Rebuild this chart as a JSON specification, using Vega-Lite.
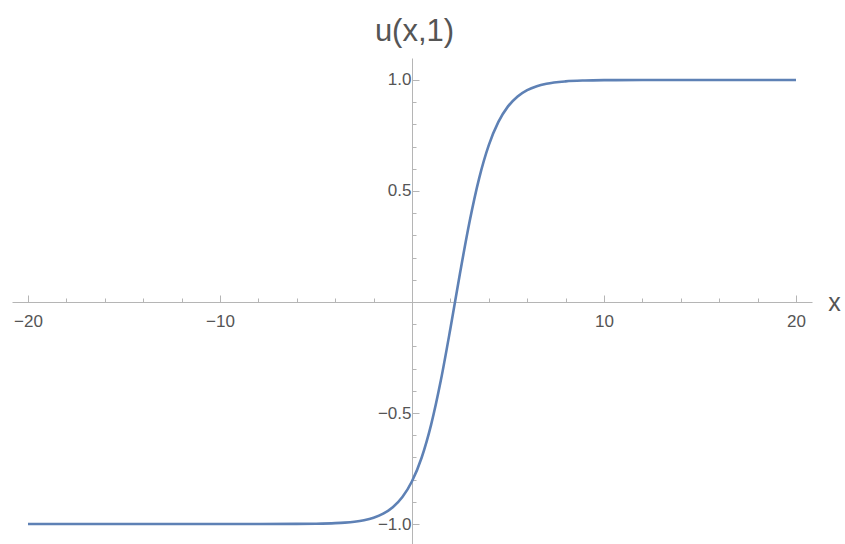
{
  "$schema": "https://vega.github.io/schema/vega-lite/v6.json",
  "width": 800,
  "height": 486,
  "autosize": {"type": "none"},
  "padding": {"left": 12, "top": 58, "right": 33, "bottom": 0},
  "background": "white",
  "config": {"view": {"stroke": null}, "axis": {"grid": false}},
  "data": {"values": [
    {"x": -20, "u": -1.0},
    {"x": -15, "u": -1.0},
    {"x": -10, "u": -0.99999},
    {"x": -8, "u": -0.99993},
    {"x": -6, "u": -0.99947},
    {"x": -5, "u": -0.9986},
    {"x": -4, "u": -0.9961},
    {"x": -3.5, "u": -0.9936},
    {"x": -3, "u": -0.9895},
    {"x": -2.5, "u": -0.9827},
    {"x": -2, "u": -0.9716},
    {"x": -1.5, "u": -0.9536},
    {"x": -1, "u": -0.9246},
    {"x": -0.5, "u": -0.8787},
    {"x": 0, "u": -0.8076},
    {"x": 0.5, "u": -0.7014},
    {"x": 1, "u": -0.5511},
    {"x": 1.5, "u": -0.354},
    {"x": 2, "u": -0.1194},
    {"x": 2.5, "u": 0.1293},
    {"x": 3, "u": 0.3627},
    {"x": 3.5, "u": 0.5581},
    {"x": 4, "u": 0.7064},
    {"x": 4.5, "u": 0.811},
    {"x": 5, "u": 0.881},
    {"x": 5.5, "u": 0.9261},
    {"x": 6, "u": 0.9545},
    {"x": 6.5, "u": 0.9722},
    {"x": 7, "u": 0.983},
    {"x": 8, "u": 0.9937},
    {"x": 9, "u": 0.9977},
    {"x": 10, "u": 0.99915},
    {"x": 12, "u": 0.99988},
    {"x": 15, "u": 1.0},
    {"x": 20, "u": 1.0}
  ]},
  "mark": {"type": "line", "color": "#5E81B5", "strokeWidth": 2.6, "interpolate": "monotone", "clip": true},
  "encoding": {
    "x": {
      "field": "x", "type": "quantitative",
      "scale": {"domain": [-20.833, 20.833], "nice": false, "zero": false},
      "axis": {
        "orient": "bottom", "offset": -242,
        "values": [-20, -18, -16, -14, -12, -10, -8, -6, -4, -2, 2, 4, 6, 8, 10, 12, 14, 16, 18, 20],
        "labelExpr": "datum.value % 10 === 0 ? datum.label : ''",
        "tickSize": {"condition": {"test": "datum.value % 10 === 0", "value": -7}, "value": -4},
        "tickColor": "#b5b5b5", "domainColor": "#b5b5b5", "tickWidth": 1, "domainWidth": 1,
        "labelFont": "Liberation Sans", "labelFontSize": 17, "labelColor": "#555555", "labelPadding": 18,
        "labelFlush": false, "labelOverlap": false,
        "title": "x", "titleX": 822, "titleY": 8, "titleAlign": "center", "titleBaseline": "alphabetic",
        "titleFont": "Liberation Sans", "titleFontSize": 25, "titleFontWeight": "normal", "titleColor": "#555555", "titleAngle": 0
      }
    },
    "y": {
      "field": "u", "type": "quantitative",
      "scale": {"domain": [-1.09, 1.099], "nice": false, "zero": false},
      "axis": {
        "orient": "left", "offset": -400,
        "values": [-1.0, -0.9, -0.8, -0.7, -0.6, -0.5, -0.4, -0.3, -0.2, -0.1, 0.1, 0.2, 0.3, 0.4, 0.5, 0.6, 0.7, 0.8, 0.9, 1.0],
        "format": ".1f",
        "labelExpr": "abs(datum.value * 2 - round(datum.value * 2)) < 0.000001 ? datum.label : ''",
        "tickSize": {"condition": {"test": "abs(datum.value * 2 - round(datum.value * 2)) < 0.000001", "value": -7}, "value": -4},
        "tickColor": "#b5b5b5", "domainColor": "#b5b5b5", "tickWidth": 1, "domainWidth": 1,
        "labelFont": "Liberation Sans", "labelFontSize": 17, "labelColor": "#555555", "labelPadding": 8,
        "labelFlush": false, "labelOverlap": false,
        "title": "u(x,1)", "titleX": 2, "titleY": -18, "titleAlign": "center", "titleBaseline": "alphabetic",
        "titleFont": "Liberation Sans", "titleFontSize": 31, "titleFontWeight": "normal", "titleColor": "#555555", "titleAngle": 0
      }
    }
  }
}
